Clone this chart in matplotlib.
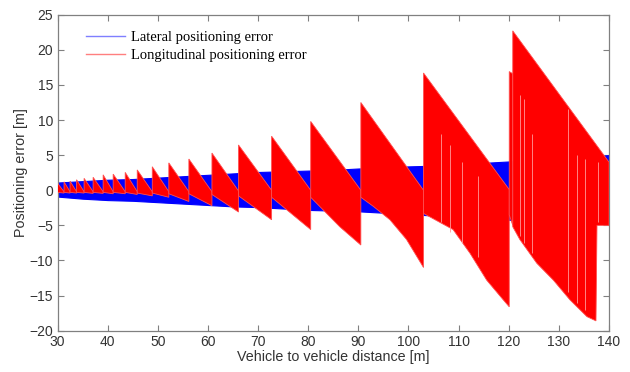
import numpy as np
import matplotlib
matplotlib.use("Agg")
import matplotlib.pyplot as plt
from matplotlib.lines import Line2D

# tooth boundaries of the longitudinal error sawtooth [m]
tooth_x = [30.0, 31.3, 32.5, 33.8, 35.3, 37.1, 39.1, 41.1, 43.5, 45.9, 48.9,
           52.2, 56.2, 60.8, 66.1, 72.7, 80.5, 90.5, 103.0, 120.1, 120.8, 140.0]
# top of each tooth at its start and at its end
tooth_peak = [1.0, 1.2, 1.3, 1.5, 1.7, 1.85, 2.2, 2.3, 2.55, 2.9, 3.35,
              3.9, 4.45, 5.3, 6.45, 7.7, 9.8, 12.5, 16.7, 16.9, 22.7]
tooth_end = [-0.2, -0.2, -0.2, -0.2, -0.2, -0.2, -0.2, -0.2, -0.2, -0.2, -0.2,
             -0.2, -0.2, -0.1, 0.0, 0.0, 0.0, 0.0, 0.1, 16.6, 4.0]
# lower envelope of each tooth, (x, y) pairs inside the tooth
tooth_bottom = [
    [(30.0, -0.3), (31.3, -0.4)],
    [(31.3, -0.3), (32.5, -0.4)],
    [(32.5, -0.3), (33.8, -0.4)],
    [(33.8, -0.3), (35.3, -0.4)],
    [(35.3, -0.3), (37.1, -0.45)],
    [(37.1, -0.3), (39.1, -0.45)],
    [(39.1, -0.3), (41.1, -0.5)],
    [(41.1, -0.3), (43.5, -0.5)],
    [(43.5, -0.3), (45.9, -0.6)],
    [(45.9, -0.4), (48.9, -0.8)],
    [(48.9, -0.4), (52.2, -1.0)],
    [(52.2, -0.5), (56.2, -1.6)],
    [(56.2, -0.5), (60.8, -2.2)],
    [(60.8, -0.6), (66.1, -3.1)],
    [(66.1, -0.8), (72.7, -4.2)],
    [(72.7, -1.0), (80.5, -5.6)],
    [(80.5, -1.0), (86.3, -5.2), (90.5, -7.8)],
    [(90.5, -1.0), (93.0, -2.3), (96.3, -4.2), (99.6, -7.0), (103.0, -11.0)],
    [(103.0, -3.3), (108.9, -5.6), (112.3, -9.0), (115.6, -12.8), (118.9, -15.6), (120.1, -16.6)],
    [(120.1, -3.5), (120.8, -5.0)],
    [(120.8, -5.2), (122.2, -7.0), (125.6, -10.4), (128.9, -12.8), (132.2, -15.6),
     (135.6, -18.0), (137.4, -18.6), (137.6, -5.0), (140.0, -5.0)],
]

# thin light gaps seen inside the big teeth: x, upper y, lower y
gap_x = [106.4, 108.2, 110.6, 113.9, 122.3, 123.1, 124.6, 131.9, 133.6, 135.2, 137.9]
gap_top = [8.0, 6.5, 4.0, 2.0, 13.5, 13.0, 8.0, 11.5, 5.0, 4.5, 4.0]
gap_bot = [-4.5, -6.0, -7.5, -9.5, -6.5, -7.5, -9.0, -14.5, -16.0, -17.0, -4.5]

# lateral error band
lat_x = [30, 35, 40, 45, 50, 55, 60, 65, 70, 75, 80, 85, 90, 95, 100, 105, 110, 115, 120, 125, 130, 135, 140]
lat_top = [1.1, 1.3, 1.5, 1.6, 1.8, 2.0, 2.2, 2.4, 2.6, 2.7, 2.8, 2.9, 3.1, 3.2, 3.4, 3.5, 3.7, 3.9, 4.1, 4.3, 4.5, 4.7, 5.0]
lat_bot = [-0.9, -1.2, -1.4, -1.5, -1.7, -1.9, -2.1, -2.3, -2.4, -2.6, -2.8, -2.9, -3.0, -3.2, -3.4, -3.6, -3.8, -4.0, -4.2, -4.3, -4.5, -4.6, -4.8]

xticks = list(range(30, 141, 10))
yticks = list(range(-20, 26, 5))

fig = plt.figure(figsize=(6.3, 3.72), dpi=100)
ax = fig.add_axes([0.0913, 0.111, 0.8754, 0.8495])

ax.fill_between(lat_x, lat_bot, lat_top, color="#0000ff", lw=0.8, zorder=2)

for i in range(len(tooth_peak)):
    x0, x1 = tooth_x[i], tooth_x[i + 1]
    top = [(x0, tooth_peak[i]), (x1, tooth_end[i])]
    poly = top + tooth_bottom[i][::-1]
    px = [p[0] for p in poly]
    py = [p[1] for p in poly]
    ax.fill(px, py, facecolor="#ff0000", edgecolor="#ff5050", lw=0.6, zorder=3)

ax.vlines(gap_x, gap_bot, gap_top, color="#ff9a9a", lw=0.6, zorder=4)

ax.set_xlim(30, 140)
ax.set_ylim(-20, 25)
ax.set_xticks(xticks)
ax.set_yticks(yticks)
ax.tick_params(direction="in", top=True, right=True, length=4, width=0.8,
               color="#808080", labelsize=10, labelcolor="#333333", pad=3)
for s in ax.spines.values():
    s.set_color("#808080")
    s.set_linewidth(0.9)
for lab in ax.get_xticklabels() + ax.get_yticklabels():
    lab.set_family("Liberation Sans")

ax.set_xlabel("Vehicle to vehicle distance [m]", family="Liberation Sans",
              fontsize=10.3, color="#333333", labelpad=1)
ax.set_ylabel("Positioning error [m]", family="Liberation Sans",
              fontsize=10.3, color="#333333", labelpad=1)

handles = [Line2D([], [], color="#7f7fff", lw=1.0),
           Line2D([], [], color="#ff7f7f", lw=1.0)]
ax.legend(handles, ["Lateral positioning error", "Longitudinal positioning error"],
          loc="upper left", bbox_to_anchor=(0.027, 0.99), frameon=False,
          prop={"family": "Liberation Serif", "size": 10.5},
          handlelength=2.7, handletextpad=0.45, labelspacing=0.35)

fig.savefig("out.png", dpi=100)
